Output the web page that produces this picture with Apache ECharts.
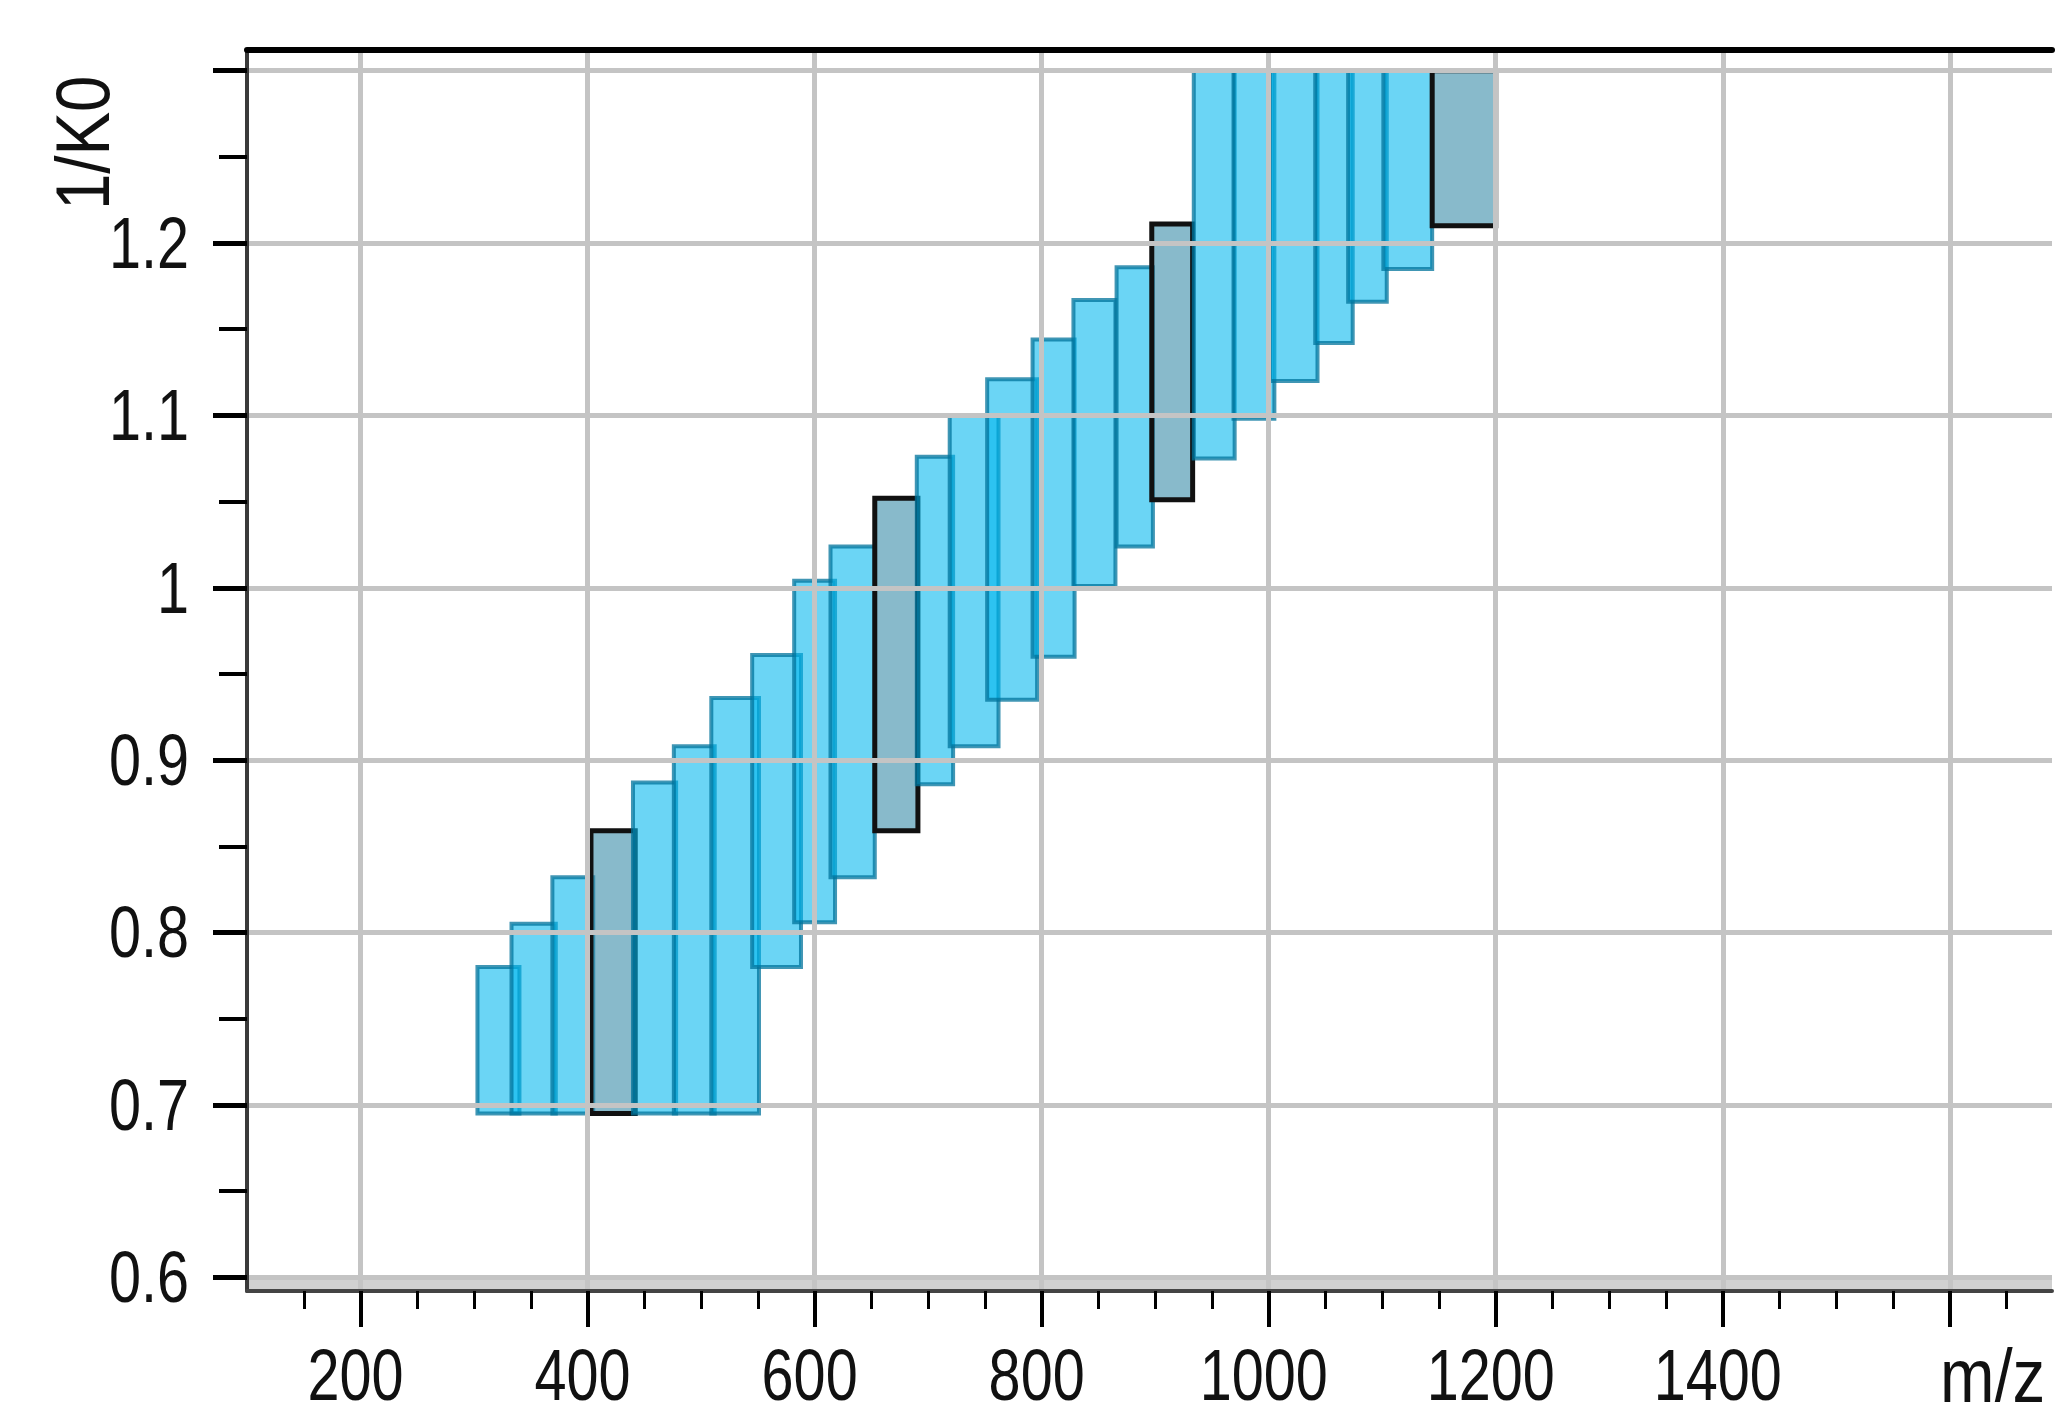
<!DOCTYPE html>
<html>
<head>
<meta charset="utf-8">
<script src="https://cdn.jsdelivr.net/npm/echarts@6/dist/echarts.min.js"></script>
<style>
html,body{margin:0;padding:0;background:#ffffff;}
#chart{width:2056px;height:1402px;}
</style>
</head>
<body>
<div id="chart"></div>
<script>
// diaPASEF isolation windows (m/z range x 1/K0 range)
const mzStart = [303, 333, 369, 403, 440, 476, 509,
                 545, 582, 614, 653, 690, 719, 752,
                 792, 828, 866, 897, 934, 969, 1001,
                 1041, 1070, 1101, 1144];
const mzEnd   = [340, 372, 405, 442, 478, 512, 551,
                 588, 618, 653, 691, 722, 762, 796,
                 829, 865, 898, 933, 970, 1005, 1043,
                 1074, 1104, 1144, 1200];
const imLow   = [0.695, 0.695, 0.695, 0.695, 0.695, 0.695, 0.695,
                 0.780, 0.806, 0.832, 0.859, 0.886, 0.908, 0.935,
                 0.960, 1.001, 1.024, 1.051, 1.075, 1.098, 1.120,
                 1.142, 1.166, 1.185, 1.210];
const imHigh  = [0.780, 0.805, 0.832, 0.859, 0.887, 0.908, 0.936,
                 0.961, 1.004, 1.024, 1.052, 1.076, 1.100, 1.121,
                 1.144, 1.167, 1.186, 1.211, 1.300, 1.300, 1.300,
                 1.300, 1.300, 1.300, 1.300];
const highlightedWindows = [3, 10, 17, 24];   // windows of one scan, drawn darker

const xTickValues = [200, 400, 600, 800, 1000, 1200, 1400, 1600];
const xLabelValues = [200, 400, 600, 800, 1000, 1200, 1400];
const yTickValues = [0.6, 0.7, 0.8, 0.9, 1.0, 1.1, 1.2, 1.3];
const yLabelValues = [0.6, 0.7, 0.8, 0.9, 1.0, 1.1, 1.2];
const xRange = [100, 1690];
const yRange = [0.592, 1.312];
const baseBand = [0.592, 0.6];
const xName = 'm/z';
const yName = '1/K0';

const FONT = "'Liberation Sans', Arial, sans-serif";
const FS = 72;        // tick labels
const FS_NAME = 76;   // axis names
const NARROW = 0.8;        // the reference uses a narrow face
const NARROW_NAME = 0.86;

const windowData = mzStart.map((s, i) => [s, mzEnd[i], imLow[i], imHigh[i],
  highlightedWindows.indexOf(i) >= 0 ? 1 : 0]);

function inList(v, list) {
  return list.some(t => Math.abs(t - v) < 1e-6);
}

const chart = echarts.init(document.getElementById('chart'), null, {renderer: 'svg'});
chart.setOption({
  animation: false,
  backgroundColor: '#ffffff',
  grid: {left: 247, right: 4, top: 50, bottom: 111, containLabel: false, outerBoundsMode: 'none'},
  xAxis: [{
    type: 'value',
    min: xRange[0], max: xRange[1], splitNumber: 8,
    position: 'bottom',
    z: 3,
    name: xName,
    nameLocation: 'end',
    nameGap: -112,
    nameMoveOverlap: false,
    nameTextStyle: {fontFamily: FONT, fontSize: FS_NAME, color: '#111', align: 'left', verticalAlign: 'top', padding: [46, 0, 0, 0]},
    axisLine: {show: true, onZero: false, lineStyle: {color: '#444', width: 4}},
    axisTick: {show: true, length: 36, customValues: xTickValues, lineStyle: {color: '#000', width: 4}},
    minorTick: {show: true, splitNumber: 4, length: 18, lineStyle: {color: '#000', width: 3}},
    axisLabel: {show: true, customValues: xLabelValues, margin: 48, padding: [0, 10, 0, 0],
      fontFamily: FONT, fontSize: FS, color: '#111',
      formatter: v => inList(v, xLabelValues) ? String(v) : ''},
    splitLine: {show: true, lineStyle: {color: '#c4c4c4', width: 5}},
    minorSplitLine: {show: false}
  }, {
    type: 'value',
    min: xRange[0], max: xRange[1],
    position: 'top',
    z: 3,
    axisLine: {show: true, onZero: false, lineStyle: {color: '#000', width: 6}},
    axisTick: {show: false},
    axisLabel: {show: false},
    splitLine: {show: false}
  }],
  yAxis: [{
    type: 'value',
    min: yRange[0], max: yRange[1], splitNumber: 7,
    z: 3,
    name: yName,
    nameLocation: 'end',
    nameRotate: 90,
    nameGap: -160,
    nameMoveOverlap: false,
    nameTextStyle: {fontFamily: FONT, fontSize: FS_NAME, color: '#111', align: 'left', verticalAlign: 'bottom', padding: [0, 0, 127, 0]},
    axisLine: {show: true, onZero: false, lineStyle: {color: '#3a3a3a', width: 4}},
    axisTick: {show: true, length: 34, customValues: yTickValues, lineStyle: {color: '#000', width: 5}},
    minorTick: {show: true, splitNumber: 2, length: 28, lineStyle: {color: '#000', width: 4}},
    axisLabel: {show: true, customValues: yLabelValues, margin: 58, fontFamily: FONT, fontSize: FS, color: '#111',
      formatter: v => inList(v, yLabelValues) ? String(+v.toFixed(2)) : ''},
    splitLine: {show: true, lineStyle: {color: '#c4c4c4', width: 5}}
  }],
  series: [{
    type: 'custom',
    name: 'isolation windows',
    coordinateSystem: 'cartesian2d',
    xAxisIndex: 0, yAxisIndex: 0,
    clip: true,
    data: windowData,
    encode: {x: [0, 1], y: [2, 3]},
    renderItem: function (params, api) {
      const topLeft = api.coord([api.value(0), api.value(3)]);
      const botRight = api.coord([api.value(1), api.value(2)]);
      const sel = api.value(4) === 1;
      return {
        type: 'rect',
        shape: {x: topLeft[0], y: topLeft[1], width: botRight[0] - topLeft[0], height: botRight[1] - topLeft[1]},
        style: sel
          ? {fill: 'rgba(57,140,168,0.6)', stroke: '#111111', lineWidth: 5}
          : {fill: 'rgba(0,183,238,0.58)', stroke: 'rgba(0,115,155,0.75)', lineWidth: 4}
      };
    },
    markArea: {
      silent: true,
      itemStyle: {color: '#d0d0d0'},
      data: [[{yAxis: baseBand[0]}, {yAxis: baseBand[1]}]]
    }
  }]
});

// narrow the real SVG text to match the condensed face of the reference
function narrowTexts() {
  document.querySelectorAll('#chart svg text').forEach(t => {
    if (t.getAttribute('data-narrowed')) return;
    const len = t.getComputedTextLength();
    if (len > 0) {
      const txt = (t.textContent || '').trim();
      const f = (txt === xName || txt === yName) ? NARROW_NAME : NARROW;
      t.setAttribute('textLength', (len * f).toFixed(2));
      t.setAttribute('lengthAdjust', 'spacingAndGlyphs');
      t.setAttribute('data-narrowed', '1');
    }
  });
}
chart.on('finished', narrowTexts);
setTimeout(narrowTexts, 50);
</script>
</body>
</html>
